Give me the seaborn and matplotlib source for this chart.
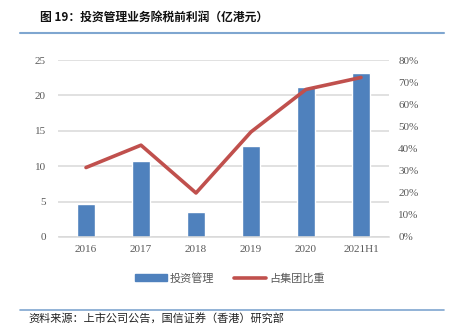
import matplotlib
matplotlib.use("Agg")
import matplotlib.pyplot as plt
import seaborn as sns
import pandas as pd
from matplotlib.lines import Line2D
from matplotlib.patches import Patch

categories = ["2016", "2017", "2018", "2019", "2020", "2021H1"]
profit = [4.6, 10.75, 3.6, 12.85, 21.2, 23.1]
share_pct = [31.4, 41.5, 19.9, 47.5, 66.7, 72.1]
left_ticks = [0, 5, 10, 15, 20, 25]
right_ticks = [0, 10, 20, 30, 40, 50, 60, 70, 80]

sns.set_theme(style="white")
plt.rcParams['font.family'] = ['Liberation Serif', 'Noto Sans CJK SC', 'DejaVu Sans']

df = pd.DataFrame({"cat": categories, "profit": profit, "share": share_pct})

W, H = 449, 335
fig = plt.figure(figsize=(W / 100, H / 100), dpi=100)
ax = fig.add_axes([58.5 / W, (H - 237) / H, 330 / W, 177 / H])

bar_c = "#4f81bd"
line_c = "#c0504d"
grid_c = "#d9d9d9"
tick_c = "#595959"

sns.barplot(data=df, x="cat", y="profit", ax=ax, color=bar_c, width=0.31,
            saturation=1, order=categories)
ax.set_xlim(-0.5, 5.5)
ax.set_ylim(0, 25)
ax.set_yticks(left_ticks)
ax.set_yticklabels([str(v) for v in left_ticks])
ax.set_xlabel("")
ax.set_ylabel("")
ax.yaxis.grid(True, color=grid_c, linewidth=1.1)
ax.set_axisbelow(True)
for s in ["top", "left", "right"]:
    ax.spines[s].set_visible(False)
ax.spines["bottom"].set_color(grid_c)
ax.spines["bottom"].set_linewidth(1.1)
ax.tick_params(axis="both", length=0, colors=tick_c, labelsize=8)
ax.tick_params(axis="y", pad=9)
ax.tick_params(axis="x", pad=6)

ax2 = ax.twinx()
sns.lineplot(data=df, x="cat", y="share", ax=ax2, color=line_c, linewidth=2.6,
             sort=False)
ax2.set_ylim(0, 80)
ax2.set_yticks(right_ticks)
ax2.set_yticklabels([f"{v}%" for v in right_ticks])
ax2.set_ylabel("")
ax2.set_xlabel("")
for s in ["top", "left", "right", "bottom"]:
    ax2.spines[s].set_visible(False)
ax2.tick_params(axis="y", length=0, colors=tick_c, labelsize=8, pad=7)
ax.set_xlim(-0.5, 5.5)

cjk = ['Noto Sans CJK SC', 'DejaVu Sans']
handles = [Patch(facecolor=bar_c, edgecolor=bar_c, label="投资管理"),
           Line2D([0], [0], color=line_c, linewidth=2.6, label="占集团比重")]
leg = fig.legend(handles=handles, loc="center", bbox_to_anchor=(230 / W, 1 - 278 / H),
                 ncol=2, frameon=False, prop={'family': cjk, 'size': 8},
                 handlelength=2.8, handleheight=0.55, columnspacing=1.8, handletextpad=0.3)
for t in leg.get_texts():
    t.set_color(tick_c)

fig.text(40 / W, 1 - 17 / H, "图 19：投资管理业务除税前利润（亿港元）",
         fontsize=8.5, fontweight="bold", family=cjk, va="center", ha="left", color="#111111")
fig.add_artist(Line2D([20 / W, 444 / W], [1 - 32.5 / H, 1 - 32.5 / H],
                      color="#7fa6d0", linewidth=1.5))
fig.add_artist(Line2D([20 / W, 444 / W], [1 - 309.5 / H, 1 - 309.5 / H],
                      color="#7fa6d0", linewidth=1.2))
fig.text(28 / W, 1 - 318 / H, "资料来源：上市公司公告，国信证券（香港）研究部",
         fontsize=8, family=cjk, va="center", ha="left", color="#222222")

fig.savefig("out.png", dpi=100)
